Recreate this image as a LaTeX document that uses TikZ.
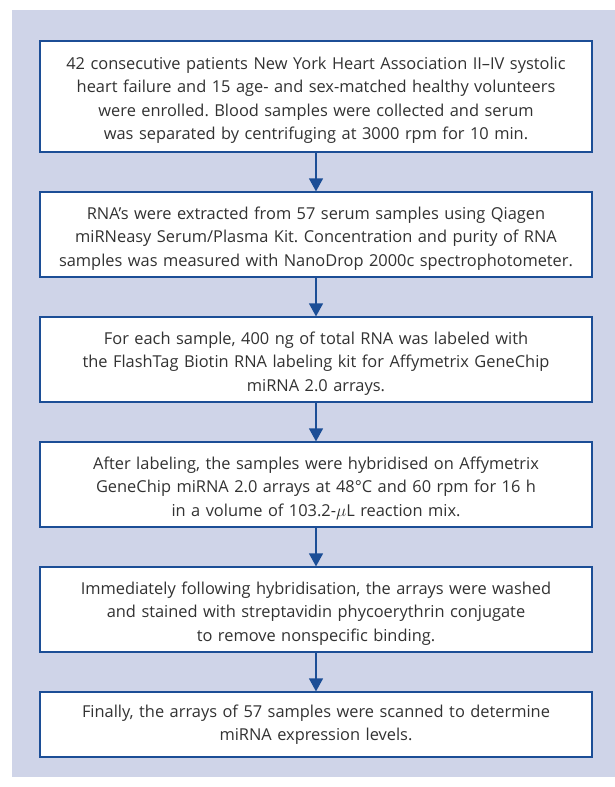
\documentclass[tikz,border=0pt]{standalone}
\usepackage{fontspec}
\setmainfont{Open Sans}
\usepackage{xcolor}
\usepackage{tikz}
\usetikzlibrary{shapes.geometric, arrows.meta}
\frenchspacing
\definecolor{panelbg}{RGB}{207,212,232}
\definecolor{boxline}{RGB}{28,78,150}
\definecolor{txtgray}{RGB}{50,50,50}
\newcommand{\topstrut}{\rule{0pt}{20pt}}
\tikzstyle{stepbox} = [rectangle, 
minimum width=552pt, 
minimum height=85pt,
text width=540pt,
inner xsep=6pt,
align=center, 
font=\fontsize{16.4}{23.5}\selectfont,
text=txtgray,
line width=1.2pt,
draw=boxline, 
fill=white]
\tikzstyle{arrow} = [line width=1.2pt, draw=boxline, -{Triangle[width=14pt,length=13pt]}, boxline]

\begin{document}
\begin{tikzpicture}[x=1pt, y=-1pt, node distance=125pt]
\useasboundingbox (0,0) rectangle (615,787);
\fill[panelbg] (12,10) rectangle (615,777);

\node (enrol) [stepbox, minimum height=111pt] at (316,96.5) {\topstrut 42 consecutive patients New York Heart Association II–IV systolic\\heart failure and 15 age- and sex-matched healthy volunteers\\were enrolled. Blood samples were collected and serum\\was separated by centrifuging at 3000 rpm for 10 min.};
\node (extract) [stepbox, below of=enrol, yshift=-13pt] {\topstrut RNA's were extracted from 57 serum samples using Qiagen\\miRNeasy Serum/Plasma Kit. Concentration and purity of RNA\\samples was measured with NanoDrop 2000c spectrophotometer.};
\node (label) [stepbox, below of=extract] {\topstrut For each sample, 400 ng of total RNA was labeled with\\the FlashTag Biotin RNA labeling kit for Affymetrix GeneChip\\miRNA 2.0 arrays.};
\node (hybrid) [stepbox, below of=label] {\topstrut After labeling, the samples were hybridised on Affymetrix\\GeneChip miRNA 2.0 arrays at 48°C and 60 rpm for 16 h\\in a volume of 103.2-$\mu$L reaction mix.};
\node (wash) [stepbox, below of=hybrid] {\topstrut Immediately following hybridisation, the arrays were washed\\and stained with streptavidin phycoerythrin conjugate\\to remove nonspecific binding.};
\node (scan) [stepbox, minimum height=65pt, below of=wash, yshift=10pt] {Finally, the arrays of 57 samples were scanned to determine\\miRNA expression levels.};

\draw [arrow] (enrol) -- (extract);
\draw [arrow] (extract) -- (label);
\draw [arrow] (label) -- (hybrid);
\draw [arrow] (hybrid) -- (wash);
\draw [arrow] (wash) -- (scan);
\end{tikzpicture}
\end{document}
